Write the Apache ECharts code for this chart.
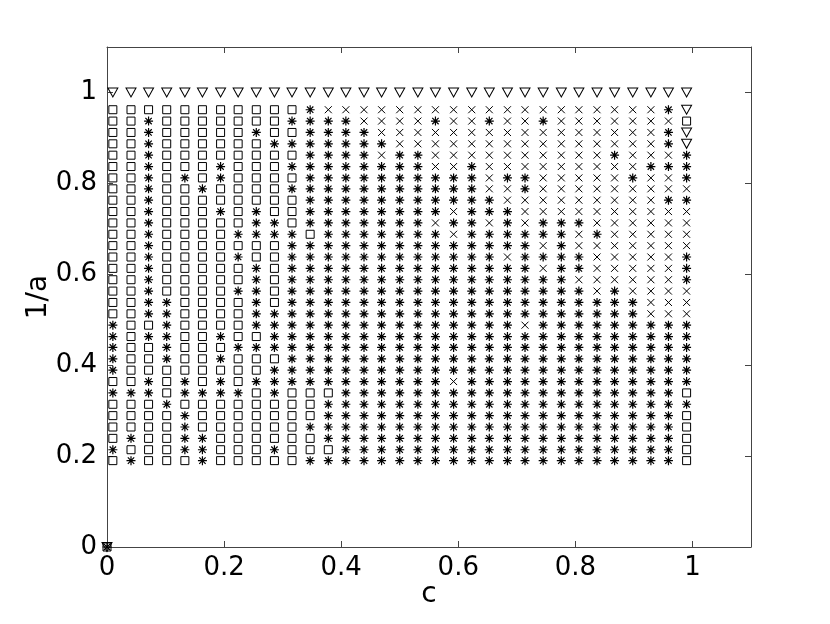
<!DOCTYPE html>
<html>
<head>
<meta charset="utf-8">
<script src="https://cdn.jsdelivr.net/npm/echarts@6/dist/echarts.min.js"></script>
<style>
  html, body { margin: 0; padding: 0; background: #fff; }
  #chart { width: 830px; height: 624px; }
</style>
</head>
<body>
<div id="chart"></div>
<script>
// column positions (c)
const cValues = [
  0.010, 0.041, 0.071, 0.102, 0.133, 0.163, 0.194, 0.224, 0.255, 0.286, 0.316,
  0.347, 0.378, 0.408, 0.439, 0.469, 0.500, 0.531, 0.561, 0.592, 0.623, 0.653,
  0.684, 0.714, 0.745, 0.776, 0.806, 0.837, 0.867, 0.898, 0.929, 0.959, 0.990
];
// row positions (1/a), top to bottom
const invA = [
  1.000,
  0.962, 0.937, 0.912, 0.887, 0.862, 0.837, 0.812, 0.788, 0.763, 0.738,
  0.713, 0.688, 0.663, 0.638, 0.613, 0.588, 0.563, 0.538, 0.513, 0.488,
  0.463, 0.439, 0.414, 0.389, 0.364, 0.339, 0.314, 0.289, 0.264, 0.239,
  0.214, 0.190
];
// marker per cell: s = square, * = asterisk, x = cross, v = triangle
// (three groups of 11 columns per row, spaces only for reading)
const markRows = [
  "vvvvvvvvvvv vvvvvvvvvvv vvvvvvvvvvv",
  "sssssssssss *xxxxxxxxxx xxxxxxxxx*v",
  "ss*sssssss* ***xxxx*xx* xx*xxxxxxxs",
  "ss*sssss*ss ****xxxxxxx xxxxxxxxx*v",
  "ss*ssssss** *****xxxxxx xxxxxxxxx*v",
  "ss*ssssssss ****x**xxxx xxxxxx*xxx*",
  "ss*sss*sss* *******xx*x xxxxxxxx***",
  "ss*s*s*ssss **********x **xxxxx*xx*",
  "ss*ss*ssss* **********x x*xxxxxxxxx",
  "ss*ssssssss *********** xxxxxxxxx**",
  "ss*sss*s*ss ********x** *xxxxxxxxxx",
  "ss*sssss**s *******x**x *x***xxxxxx",
  "ss*ssss**** s*******x** ****x*xxxxx",
  "ss*sssssss* *********** **x*xxxxxxx",
  "ss*ssss*ss* *********** x****xxxxx*",
  "ss*sssss*s* *********** **x**xxxxx*",
  "ss*sssss*s* *********** ****xxxxxx*",
  "ss*ssss**s* *********** *****x*xxxx",
  "ss**ssss*s* *********** ********xxx",
  "ss**ssss*** *********** ********xxx",
  "*ss*ssss*** *********** *x*********",
  "*s**ss*ss** *********** ***********",
  "*ss*sss**** *********** ***********",
  "*ss*ss*sss* *********** ***********",
  "*ssssssss** *********** ***********",
  "ss*s*s*s*** ********x** ***********",
  "***s****s*s ss********* **********s",
  "sss*sssssss s********** ***********",
  "ssss*ssssss s********** **********s",
  "ssss*ssssss *********** **********s",
  "s*ss**sssss s********** **********s",
  "*sss**sss*s ss********* **********s",
  "s*sss*sssss *********** **********s"
];
// overlapping markers drawn at the origin
const originMarks = ["s", "*", "x", "v"];

const buckets = { s: [], "*": [], x: [], v: [] };
markRows.forEach((raw, i) => {
  const row = raw.replace(/ /g, "");
  for (let j = 0; j < cValues.length && j < row.length; j++) {
    const k = row[j];
    if (buckets[k]) buckets[k].push([cValues[j], invA[i]]);
  }
});
originMarks.forEach(k => buckets[k].push([0, 0]));

const mk = (name, data, symbol, size, width) => ({
  name,
  type: "scatter",
  data,
  symbol,
  symbolSize: size,
  symbolKeepAspect: false,
  silent: true,
  itemStyle: { color: "transparent", borderColor: "#000", borderWidth: width, opacity: 1 },
  emphasis: { disabled: true },
  z: 3
});

const fmt = v => (v > 1.0001 ? "" : String(Math.round(v * 10) / 10));
const labelFont = { fontFamily: "DejaVu Sans", fontSize: 26, color: "#000" };
const nameFont = { fontFamily: "DejaVu Sans", fontSize: 28, color: "#000" };
const axisLineStyle = { lineStyle: { color: "#444", width: 1 } };

const chart = echarts.init(document.getElementById("chart"), null, { renderer: "canvas" });
chart.setOption({
  animation: false,
  backgroundColor: "#fff",
  grid: { left: 107, right: 79, top: 47, bottom: 77, show: false },
  xAxis: [
    {
      type: "value", position: "bottom", min: 0, max: 1.1, interval: 0.2,
      name: "c", nameLocation: "middle", nameGap: 34, nameMoveOverlap: false,
      nameTextStyle: nameFont,
      axisLine: { show: true, onZero: false, ...axisLineStyle },
      axisTick: { show: true, inside: true, length: 6, lineStyle: { color: "#444" } },
      axisLabel: { ...labelFont, margin: 8, formatter: fmt },
      splitLine: { show: false }
    },
    {
      type: "value", position: "top", min: 0, max: 1.1, interval: 0.2,
      axisLine: { show: true, onZero: false, ...axisLineStyle },
      axisTick: { show: true, inside: true, length: 6, lineStyle: { color: "#444" } },
      axisLabel: { show: false },
      splitLine: { show: false }
    }
  ],
  yAxis: [
    {
      type: "value", position: "left", min: 0, max: 1.1, interval: 0.2,
      name: "1/a", nameLocation: "middle", nameGap: 54, nameRotate: 90, nameMoveOverlap: false,
      nameTextStyle: nameFont,
      axisLine: { show: true, onZero: false, ...axisLineStyle },
      axisTick: { show: true, inside: true, length: 6, lineStyle: { color: "#444" } },
      axisLabel: { ...labelFont, margin: 10, formatter: fmt },
      splitLine: { show: false }
    },
    {
      type: "value", position: "right", min: 0, max: 1.1, interval: 0.2,
      axisLine: { show: true, onZero: false, ...axisLineStyle },
      axisTick: { show: true, inside: true, length: 6, lineStyle: { color: "#444" } },
      axisLabel: { show: false },
      splitLine: { show: false }
    }
  ],
  series: [
    mk("square", buckets.s, "rect", 8, 1),
    mk("asterisk", buckets["*"], "path://M5,0L5,10M0,5L10,5M1.46,1.46L8.54,8.54M8.54,1.46L1.46,8.54", 9, 1.2),
    mk("cross", buckets.x, "path://M0,0L10,10M10,0L0,10", 7, 1),
    mk("triangle", buckets.v, "path://M0,0L10,0L5,8.66Z", [10, 9], 1)
  ]
});
</script>
</body>
</html>
